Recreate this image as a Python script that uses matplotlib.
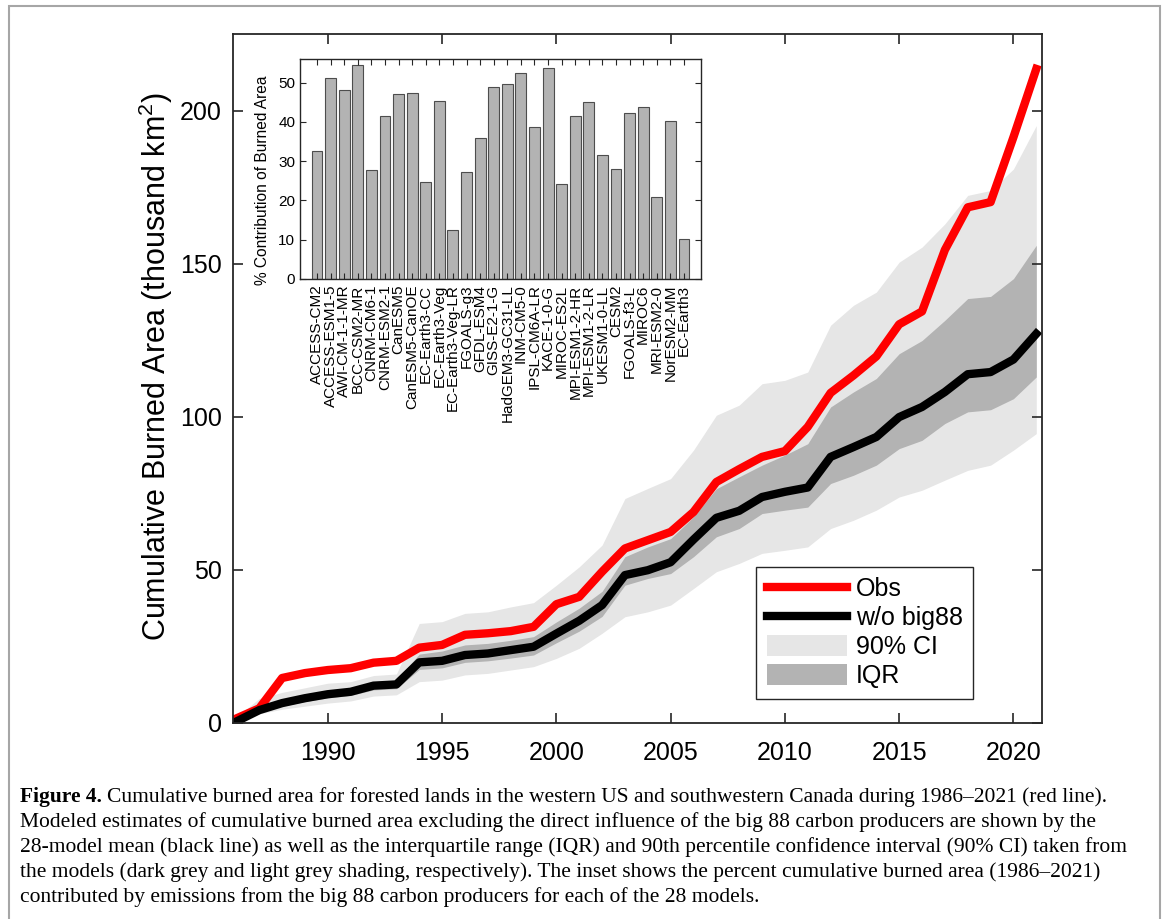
import matplotlib
matplotlib.use('Agg')
import matplotlib.pyplot as plt
import matplotlib.patches as mpatches
from matplotlib.lines import Line2D
import numpy as np

plt.rcParams['font.family'] = ['Liberation Sans', 'DejaVu Sans']
plt.rcParams['mathtext.fontset'] = 'custom'
plt.rcParams['mathtext.rm'] = 'Liberation Sans'
plt.rcParams['mathtext.it'] = 'Liberation Sans:italic'

# Cumulative burned area (thousand km2), 1986-2021
years = list(range(1986, 2022))
obs = [1.5, 4.8, 14.7, 16.3, 17.3, 17.9, 19.7, 20.3, 24.6, 25.5,
       28.8, 29.3, 30.0, 31.4, 38.8, 41.2, 49.4, 57.0, 59.7, 62.4,
       68.9, 78.7, 82.9, 86.9, 88.8, 96.7, 107.8, 113.5, 119.7, 130.2,
       134.4, 154.5, 168.4, 170.1, 191.3, 213.6]
mean_no88 = [0.5, 4.2, 6.5, 8.1, 9.4, 10.2, 12.2, 12.6, 19.8, 20.3,
             22.2, 22.7, 23.8, 24.9, 29.2, 33.4, 38.5, 48.3, 49.9, 52.5,
             59.9, 67.0, 69.3, 73.8, 75.5, 76.9, 86.9, 90.1, 93.4, 99.9,
             103.2, 108.1, 113.9, 114.6, 118.7, 127.1]
iqr_lo = [0.3, 3.5, 5.5, 7.0, 8.2, 9.0, 10.8, 11.2, 17.5, 18.0,
          19.8, 20.3, 21.2, 22.2, 26.2, 30.0, 34.8, 45.0, 47.2, 48.8,
          54.3, 60.8, 63.5, 68.4, 69.5, 70.5, 78.2, 80.9, 84.2, 89.6,
          92.3, 97.8, 101.6, 102.3, 105.9, 113.0]
iqr_hi = [0.8, 4.8, 7.5, 9.0, 10.5, 11.3, 13.5, 14.0, 22.5, 23.5,
          25.5, 26.0, 27.0, 28.2, 33.0, 37.5, 43.0, 54.3, 57.5, 60.2,
          67.3, 76.5, 80.4, 84.2, 87.5, 91.2, 103.2, 108.1, 112.5, 120.6,
          124.9, 131.5, 138.6, 139.3, 145.1, 156.0]
ci_lo = [0.0, 3.0, 4.5, 5.5, 6.5, 7.2, 8.8, 9.2, 13.5, 14.0,
         15.7, 16.2, 17.3, 18.4, 21.1, 24.4, 29.3, 34.7, 36.3, 38.5,
         43.9, 49.4, 52.1, 55.4, 56.4, 57.5, 63.5, 66.2, 69.5, 73.8,
         76.0, 79.3, 82.5, 84.2, 89.1, 94.5]
ci_hi = [2.0, 8.0, 10.0, 11.5, 13.0, 13.5, 15.5, 16.0, 32.5, 33.1,
         35.8, 36.3, 37.9, 39.3, 45.0, 51.0, 58.1, 73.3, 76.6, 79.8,
         89.1, 100.5, 103.8, 110.8, 111.9, 114.6, 129.9, 136.4, 140.7, 150.5,
         155.4, 163.0, 172.3, 173.9, 180.9, 195.1]

# Inset: % contribution of burned area per model
models = ['ACCESS-CM2', 'ACCESS-ESM1-5', 'AWI-CM-1-1-MR', 'BCC-CSM2-MR',
          'CNRM-CM6-1', 'CNRM-ESM2-1', 'CanESM5', 'CanESM5-CanOE',
          'EC-Earth3-CC', 'EC-Earth3-Veg', 'EC-Earth3-Veg-LR', 'FGOALS-g3',
          'GFDL-ESM4', 'GISS-E2-1-G', 'HadGEM3-GC31-LL', 'INM-CM5-0',
          'IPSL-CM6A-LR', 'KACE-1-0-G', 'MIROC-ES2L', 'MPI-ESM1-2-HR',
          'MPI-ESM1-2-LR', 'UKESM1-0-LL', 'CESM2', 'FGOALS-f3-L',
          'MIROC6', 'MRI-ESM2-0', 'NorESM2-MM', 'EC-Earth3']
contrib = [32.5, 51.2, 48.1, 54.6, 27.7, 41.6, 47.2, 47.4, 24.7, 45.4,
           12.6, 27.3, 36.0, 48.8, 49.7, 52.5, 38.7, 53.6, 24.2, 41.6,
           45.1, 31.6, 28.1, 42.3, 43.8, 20.9, 40.1, 10.2]

axcol = '#262626'
fig = plt.figure(figsize=(11.69, 9.19), dpi=100)

# outer frame of the figure panel
fig.patches.append(mpatches.Rectangle((9 / 1169, -0.05), 1151 / 1169, 1.05 - 6 / 919,
                                      transform=fig.transFigure, fill=False,
                                      edgecolor='#a6a6a6', linewidth=1.5))

ax = fig.add_axes([233 / 1169, 1 - 723 / 919, 809 / 1169, 689 / 919])
ax.fill_between(years, ci_lo, ci_hi, color='#e6e6e6', linewidth=0, label='90% CI')
ax.fill_between(years, iqr_lo, iqr_hi, color='#b3b3b3', linewidth=0, label='IQR')
ax.plot(years, obs, color='#ff0000', linewidth=6, label='Obs')
ax.plot(years, mean_no88, color='black', linewidth=6, label='w/o big88')

ax.set_xlim(1985.85, 2021.25)
ax.set_ylim(0, 225)
ax.set_xticks(range(1990, 2021, 5))
ax.set_yticks([0, 50, 100, 150, 200])
ax.tick_params(direction='in', top=True, right=True, length=7, width=1.2,
               color=axcol, labelsize=18)
ax.tick_params(axis='x', pad=13)
ax.tick_params(axis='y', pad=8)
for s in ax.spines.values():
    s.set_color(axcol)
    s.set_linewidth(1.3)
ax.set_ylabel(r'Cumulative Burned Area (thousand km$^2$)', fontsize=22)
ax.yaxis.set_label_coords(-0.072, 0.517)

handles = [Line2D([0], [0], color='#ff0000', lw=6),
           Line2D([0], [0], color='black', lw=6),
           mpatches.Patch(color='#e6e6e6', linewidth=0),
           mpatches.Patch(color='#b3b3b3', linewidth=0)]
leg = ax.legend(handles, ['Obs', 'w/o big88', '90% CI', 'IQR'],
                loc='lower right', bbox_to_anchor=(0.915, 0.035), fontsize=18,
                fancybox=False, framealpha=1, edgecolor=axcol,
                handlelength=3.2, handleheight=0.9, handletextpad=0.35,
                labelspacing=0.2, borderpad=0.42, borderaxespad=0)
leg.get_frame().set_linewidth(1.0)

# inset bar chart
axi = fig.add_axes([300 / 1169, 1 - 279 / 919, 401 / 1169, 220 / 919])
pos = np.arange(1, len(models) + 1)
axi.bar(pos, contrib, width=0.8, color='#b3b3b3', edgecolor='#4d4d4d', linewidth=0.8)
axi.set_xlim(-0.25, 29.25)
axi.set_ylim(0, 56)
axi.set_xticks(pos)
axi.set_xticklabels(models, rotation=90, fontsize=11)
axi.set_yticks([0, 10, 20, 30, 40, 50])
axi.tick_params(direction='in', top=True, right=True, length=4, width=0.8,
                color=axcol, labelsize=11)
axi.tick_params(axis='x', pad=4)
for s in axi.spines.values():
    s.set_color(axcol)
    s.set_linewidth(1.0)
axi.set_ylabel('% Contribution of Burned Area', fontsize=11.2)
axi.yaxis.set_label_coords(-0.075, 0.45)

# caption
cap_font = ['Liberation Serif', 'DejaVu Serif']
cap_size = 15.5
lines = ['Cumulative burned area for forested lands in the western US and southwestern Canada during 1986\u20132021 (red line).',
         'Modeled estimates of cumulative burned area excluding the direct influence of the big 88 carbon producers are shown by the',
         '28-model mean (black line) as well as the interquartile range (IQR) and 90th percentile confidence interval (90% CI) taken from',
         'the models (dark grey and light grey shading, respectively). The inset shows the percent cumulative burned area (1986\u20132021)',
         'contributed by emissions from the big 88 carbon producers for each of the 28 models.']
ys = [797, 822, 847, 872, 897]
t0 = fig.text(20 / 1169, 1 - ys[0] / 919, 'Figure 4.', fontsize=cap_size,
              fontweight='bold', family=cap_font, va='center')
fig.canvas.draw()
bb = t0.get_window_extent()
fig.text((bb.x1 + 5) / 1169, 1 - ys[0] / 919, lines[0], fontsize=cap_size,
         family=cap_font, va='center')
for txt, y in zip(lines[1:], ys[1:]):
    fig.text(20 / 1169, 1 - y / 919, txt, fontsize=cap_size, family=cap_font, va='center')

fig.savefig('out.png', dpi=100)
